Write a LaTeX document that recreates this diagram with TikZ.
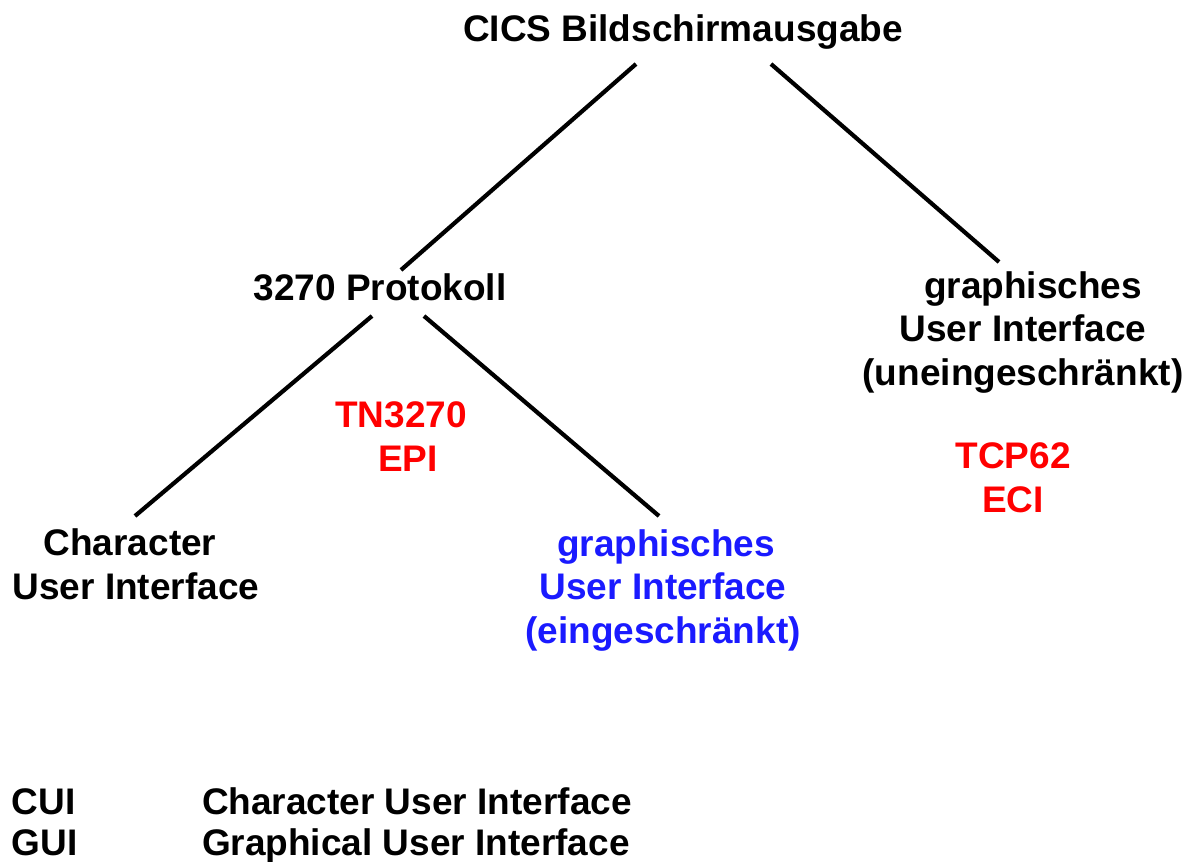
\documentclass[tikz,border=0pt]{standalone}
\usepackage{fontspec}
\setmainfont{Liberation Sans}
\begin{document}
\begin{tikzpicture}[x=1pt,y=-1pt,
  lbl/.style={inner sep=0pt,outer sep=0pt,font=\fontsize{37}{43.5}\selectfont\bfseries,align=center,anchor=base},
  leftlbl/.style={lbl,anchor=base west,align=left},
  conn/.style={line width=4.2pt,black},
  redtxt/.style={text=red},
  bluetxt/.style={text={rgb,255:red,26;green,26;blue,255}}]
\useasboundingbox (0,0) rectangle (1189,862);
\node[lbl] (cics) at (683,41) {CICS Bildschirmausgabe};
\node[lbl] (prot) at (380,300) {3270 Protokoll};
\node[lbl] (gui) at (1023,385) {\hspace*{20pt}graphisches\\User Interface\\(uneingeschränkt)};
\node[lbl,redtxt] (tn) at (401,471) {TN3270\\\hspace*{14pt}EPI};
\node[lbl,redtxt] (tcp) at (1013,512) {TCP62\\ECI};
\node[lbl] (cui) at (136,599) {\hspace*{-12pt}Character\\User Interface};
\node[lbl,bluetxt] (guie) at (663,643) {\hspace*{6pt}graphisches\\User Interface\\(eingeschränkt)};
\node[leftlbl] (a1) at (12,814) {CUI};
\node[leftlbl] (d1) at (202,814) {Character User Interface};
\node[leftlbl] (a2) at (12,855) {GUI};
\node[leftlbl] (d2) at (202,855) {Graphical User Interface};
\coordinate (c1) at (636,64);
\coordinate (p1) at (401,270);
\coordinate (c2) at (771,64);
\coordinate (g1) at (999,262);
\coordinate (p2) at (372,316);
\coordinate (u1) at (135,516);
\coordinate (p3) at (424,316);
\coordinate (e1) at (659,516);
\draw[conn] (c1) -- (p1);
\draw[conn] (c2) -- (g1);
\draw[conn] (p2) -- (u1);
\draw[conn] (p3) -- (e1);
\end{tikzpicture}
\end{document}
